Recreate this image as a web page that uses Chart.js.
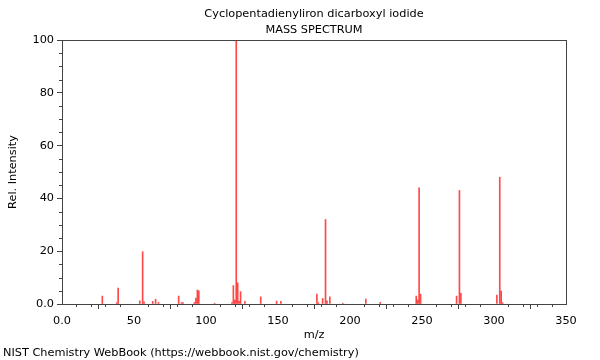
<!DOCTYPE html>
<html>
<head>
<meta charset="utf-8">
<script src="https://cdn.jsdelivr.net/npm/chart.js@4.4.1/dist/chart.umd.min.js"></script>
<style>
  html, body { margin: 0; padding: 0; background: #fff; }
  #wrap { width: 600px; height: 360px; position: relative; }
</style>
</head>
<body>
<div id="wrap"><canvas id="c" width="600" height="360"></canvas></div>
<script>
// m/z values and relative intensities
const mz = [28, 38, 39, 54, 56, 57, 63, 65, 67, 81, 83, 84, 92, 93, 94, 95, 106,
            118, 119, 120, 121, 122, 123, 124, 127, 138, 149, 152,
            177, 178, 181, 183, 184, 186, 195, 211, 221,
            246, 247, 248, 249, 274, 276, 277, 302, 304, 305, 306];
const intensity = [3.0, 0.5, 6.0, 1.2, 19.8, 0.8, 1.0, 1.8, 0.6, 3.0, 0.5, 0.5, 0.6, 2.2, 5.3, 5.0, 0.3,
                   0.5, 7.0, 1.5, 100, 8.0, 1.0, 4.7, 1.0, 2.7, 1.1, 1.0,
                   3.8, 0.5, 2.1, 32.0, 1.2, 2.7, 0.3, 1.9, 0.6,
                   3.0, 1.5, 44.0, 3.7, 3.0, 43.0, 4.0, 3.4, 48.0, 4.9, 0.5];
const xTickValues = [0, 50, 100, 150, 200, 250, 300, 350];
const yTickValues = [0, 20, 40, 60, 80, 100];

const titleLines = ['Cyclopentadienyliron dicarboxyl iodide', 'MASS SPECTRUM'];
const footerText = 'NIST Chemistry WebBook (https://webbook.nist.gov/chemistry)';

const FONT = 'DejaVu Sans';
const AXIS_COLOR = '#444';

const points = mz.map((m, i) => ({ x: m, y: intensity[i] }));

const framePlugin = {
  id: 'frame',
  afterDraw(chart) {
    const { ctx, chartArea: a, scales } = chart;
    ctx.save();
    ctx.strokeStyle = AXIS_COLOR;
    ctx.lineWidth = 1;
    ctx.strokeRect(Math.round(a.left) + 0.5, Math.round(a.top) + 0.5,
                   Math.round(a.right - a.left), Math.round(a.bottom - a.top));
    // minor ticks
    const xs = scales.x, ys = scales.y;
    ctx.beginPath();
    for (let v = 0; v <= 350; v += 10) {
      if (xTickValues.includes(v)) continue;
      const px = Math.round(xs.getPixelForValue(v)) + 0.5;
      ctx.moveTo(px, Math.round(a.bottom));
      ctx.lineTo(px, Math.round(a.bottom) + 3);
    }
    for (let v = 0; v <= 100; v += 5) {
      if (yTickValues.includes(v)) continue;
      const py = Math.round(ys.getPixelForValue(v)) + 0.5;
      ctx.moveTo(Math.round(a.left) - 3, py);
      ctx.lineTo(Math.round(a.left), py);
    }
    ctx.stroke();
    // titles
    ctx.fillStyle = '#000';
    ctx.font = '11.3px "' + FONT + '"';
    ctx.textAlign = 'center';
    ctx.textBaseline = 'middle';
    const cx = (a.left + a.right) / 2;
    ctx.fillText(titleLines[0], cx, 14);
    ctx.fillText(titleLines[1], cx, 30.5);
    ctx.textAlign = 'left';
    ctx.fillText(footerText, 3, 353);
    ctx.restore();
  }
};

new Chart(document.getElementById('c'), {
  type: 'bar',
  data: {
    datasets: [{
      data: points,
      backgroundColor: 'rgba(255,40,40,0.85)',
      borderWidth: 0,
      barThickness: 1,
      grouped: false
    }]
  },
  options: {
    responsive: false,
    animation: false,
    events: [],
    layout: { padding: { top: 40, left: 0, right: 34, bottom: 18 } },
    plugins: { legend: { display: false }, tooltip: { enabled: false }, title: { display: false } },
    scales: {
      x: {
        type: 'linear',
        min: 0, max: 350,
        offset: false,
        afterBuildTicks(scale) { scale.ticks = xTickValues.map(v => ({ value: v })); },
        afterFit(scale) { scale.height = 38; },
        ticks: {
          autoSkip: false, maxRotation: 0, padding: 5, color: '#000',
          font: { family: FONT, size: 11.3 },
          callback: v => v === 0 ? '0.0' : String(v)
        },
        grid: { drawOnChartArea: false, drawTicks: true, tickLength: 5, color: AXIS_COLOR },
        border: { display: true, color: AXIS_COLOR },
        title: { display: true, text: 'm/z', color: '#000', font: { family: FONT, size: 11.3 }, padding: { top: 0, bottom: 0 } }
      },
      y: {
        min: 0, max: 100,
        afterBuildTicks(scale) { scale.ticks = yTickValues.map(v => ({ value: v })); },
        afterFit(scale) { scale.width = 62; },
        ticks: {
          autoSkip: false, padding: 3, color: '#000',
          font: { family: FONT, size: 11.3 },
          callback: v => v === 0 ? '0.0' : String(v)
        },
        grid: { drawOnChartArea: false, drawTicks: true, tickLength: 5, color: AXIS_COLOR },
        border: { display: true, color: AXIS_COLOR },
        title: { display: true, text: 'Rel. Intensity', color: '#000', font: { family: FONT, size: 11.3 }, padding: { top: 6, bottom: 0 } }
      }
    }
  },
  plugins: [framePlugin]
});
</script>
</body>
</html>
